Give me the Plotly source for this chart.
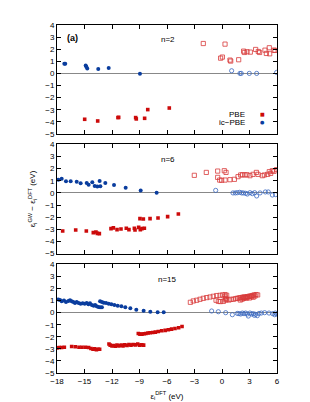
import plotly.graph_objects as go

# ---------------- data (eV) ----------------
# n=2
n2_pbe_occ_x = [-14.98, -13.56, -11.35, -11.27, -9.42, -9.35, -8.44, -8.1, -5.75]
n2_pbe_occ_y = [-3.79, -3.93, -3.65, -3.63, -3.65, -3.76, -3.71, -2.99, -2.86]
n2_pbe_unocc_x = [-2.04, 0.33, -0.15, 0.04, 0.87, 0.95, 1.82, 2.36, 2.44, 2.73, 3.09, 3.67, 3.96, 4.1, 4.69, 4.84, 5.16, 5.2, 5.67, 5.78]
n2_pbe_unocc_y = [2.47, 2.42, 1.26, 1.35, 1.1, 1.02, 1.13, 1.84, 1.73, 1.79, 1.76, 1.98, 1.81, 1.73, 1.92, 1.65, 2.12, 1.62, 1.92, 1.9]
n2_ic_occ_x = [-17.2, -17.1, -14.87, -14.8, -14.7, -13.5, -12.36, -8.95]
n2_ic_occ_y = [0.8, 0.8, 0.66, 0.55, 0.41, 0.36, 0.44, -0.03]
n2_ic_unocc_x = [1.05, 1.96, 2.1, 2.98, 3.78, 5.96]
n2_ic_unocc_y = [0.22, 0.0, 0.0, 0.0, 0.0, 0.08]

# n=6
n6_pbe_occ_x = [-17.38, -15.96, -14.8, -14.04, -13.75, -13.6, -13.38, -12.11, -11.85, -11.45, -11.02, -10.44, -10.15,
                -9.56, -9.49, -9.09, -8.91, -8.73, -8.47, -8.95, -8.58, -7.85, -6.98, -5.93, -4.76]
n6_pbe_occ_y = [-3.13, -3.05, -3.13, -3.27, -3.22, -3.33, -3.35, -2.94, -2.88, -3.02, -2.97, -2.91, -3.02,
                -2.91, -3.05, -2.84, -3.02, -2.94, -2.91, -2.12, -2.15, -2.12, -2.06, -1.95, -1.73]
n6_pbe_unocc_x = [-3.02, -1.71, -0.47, -0.47, -0.25, -0.04, 0.25, 0.44, 0.33, 0.87, 1.35, 1.75, 2.04, 2.25, 2.51, 2.73,
                  3.05, 3.38, 3.75, 3.93, 4.4, 4.62, 4.98, 5.16, 5.31, 5.49, 5.67, 5.96]
n6_pbe_unocc_y = [1.45, 1.69, 1.8, 1.28, 1.06, 1.04, 1.83, 1.69, 1.06, 1.09, 1.12, 1.34, 1.48, 1.5, 1.48, 1.5,
                  1.42, 1.53, 1.69, 1.53, 1.42, 1.48, 1.53, 1.75, 1.61, 1.83, 1.78, 1.92]
n6_ic_occ_x = [-17.85, -17.49, -17.02, -16.51, -15.85, -15.42, -14.76, -14.55, -14.15, -13.89, -13.6, -13.35, -13.27,
               -12.73, -11.78, -10.51, -8.87, -7.13]
n6_ic_occ_y = [1.09, 1.17, 0.96, 0.96, 0.93, 0.79, 0.82, 0.68, 0.87, 0.57, 0.52, 0.98, 0.54, 0.82, 0.65, 0.43, 0.21, 0.02]
n6_ic_unocc_x = [-0.69, 1.2, 1.46, 1.67, 1.93, 2.15, 2.33, 2.58, 2.76, 3.05, 3.31, 3.56, 3.78, 4.15, 4.73, 5.05, 5.49, 5.85]
n6_ic_unocc_y = [0.21, 0.0, 0.0, 0.02, 0.05, 0.0, 0.0, -0.03, -0.09, 0.02, -0.06, 0.02, -0.25, 0.0, 0.08, 0.08, -0.17, -0.14]

# n=15
n15_pbe_occ_x = [-18.0, -17.75, -17.5, -17.2, -16.4, -16.0, -15.6, -15.27, -14.9, -14.55, -14.3, -14.07, -13.9, -13.7,
                 -13.5, -13.35,
                 -12.33, -12.2, -12.0, -11.82, -11.64, -11.45, -11.24, -11.0, -10.8, -10.6, -10.36, -10.15, -9.93,
                 -9.7, -9.45, -9.2, -9.0, -8.75, -8.55,
                 -9.13, -8.95, -8.73, -8.5, -8.3, -8.07, -7.85, -7.56, -7.27, -6.95, -6.58, -6.2, -5.85, -5.5,
                 -5.13, -4.73, -4.36]
n15_pbe_occ_y = [-2.92, -2.89, -2.89, -2.86, -2.8, -2.83, -2.86, -2.86, -2.86, -2.89, -2.97, -3.03, -3.0, -3.06,
                 -3.03, -3.03,
                 -2.6, -2.69, -2.75, -2.72, -2.78, -2.69, -2.75, -2.69, -2.75, -2.67, -2.72, -2.64, -2.69,
                 -2.64, -2.67, -2.6, -2.69, -2.67, -2.69,
                 -1.72, -1.78, -1.78, -1.75, -1.72, -1.69, -1.67, -1.64, -1.61, -1.56, -1.5, -1.47, -1.42, -1.36,
                 -1.31, -1.25, -1.14]
n15_pbe_unocc_x = [-3.45, -3.13, -2.76, -2.4, -2.04, -1.67, -1.31, -0.95, -0.58, -0.22, 0.07, 0.33, 0.51,
                   -0.65, -0.4, -0.18, 0.15, 0.36, 0.5, 0.76, 0.98, 1.24, 1.49, 1.67, 1.85, 2.04, 2.25, 2.4, 2.58,
                   2.76, 2.95, 3.13, 3.31, 3.49, 3.71, 3.89,
                   0.33, 0.4, 2.0, 2.2, 2.36, 2.5, 2.65, 2.8, 3.0, 3.2, 3.4, 3.6]
n15_pbe_unocc_y = [0.86, 0.97, 1.03, 1.11, 1.19, 1.25, 1.3, 1.36, 1.42, 1.44, 1.47, 1.5, 1.44,
                   1.03, 0.94, 0.92, 0.94, 1.05, 1.08, 1.05, 1.11, 1.11, 1.17, 1.19, 1.22, 1.25, 1.28, 1.3, 1.3,
                   1.33, 1.36, 1.39, 1.42, 1.47, 1.5, 1.47,
                   1.36, 1.2, 1.05, 1.12, 1.19, 1.25, 1.2, 1.3, 1.22, 1.33, 1.28, 1.38]
n15_ic_occ_x = [-17.85, -17.67, -17.49, -17.24, -17.02, -16.76, -16.58, -16.4, -16.22, -16.04, -15.85, -15.64,
                -15.42, -15.2, -14.98, -14.76, -14.58, -14.4, -14.2, -14.0, -13.84, -13.67, -13.49, -13.3, -13.1,
                -13.3, -13.1, -12.9, -12.65, -12.36, -12.07, -11.74, -11.38, -10.98, -10.55, -10.0, -9.35, -8.55,
                -7.82, -7.02, -6.36]
n15_ic_occ_y = [1.1, 1.05, 0.94, 1.0, 0.89, 0.97, 1.03, 0.94, 0.89, 0.81, 0.89, 0.81,
                0.75, 0.78, 0.75, 0.81, 0.69, 0.78, 0.64, 0.58, 0.64, 0.53, 0.47, 0.44, 0.44,
                0.94, 0.89, 0.83, 0.81, 0.75, 0.69, 0.64, 0.58, 0.53, 0.44, 0.36, 0.25, 0.17,
                0.08, 0.03, 0.03]
n15_ic_unocc_x = [-1.13, -0.4, 0.4, 1.13, 1.67, 1.85, 2.04, 2.22, 2.4, 2.58, 2.76, 2.87, 3.05, 3.24, 3.42, 3.53,
                  3.67, 3.85, 4.04, 4.29, 4.65, 5.13, 5.53, 5.75, 6.0, 5.82]
n15_ic_unocc_y = [0.14, 0.08, 0.0, -0.17, -0.06, -0.08, -0.11, -0.03, -0.08, -0.03, -0.11, -0.28, -0.03, -0.11,
                  -0.08, -0.22, -0.14, -0.25, -0.06, -0.03, 0.0, -0.03, -0.08, -0.17, -0.11, -0.03]

panel_labels = ["n=2", "n=6", "n=15"]
legend_labels = ["PBE", "ic−PBE"]
x_ticks = [-18, -15, -12, -9, -6, -3, 0, 3, 6]
y_ticks = [-5, -4, -3, -2, -1, 0, 1, 2, 3, 4]

RED = "#cc0a0a"
BLUE = "#0a3d9e"
RED_OPEN = "#d83a3a"
BLUE_OPEN = "#3a68c0"

panels = [
    (n2_pbe_occ_x, n2_pbe_occ_y, n2_pbe_unocc_x, n2_pbe_unocc_y, n2_ic_occ_x, n2_ic_occ_y, n2_ic_unocc_x, n2_ic_unocc_y),
    (n6_pbe_occ_x, n6_pbe_occ_y, n6_pbe_unocc_x, n6_pbe_unocc_y, n6_ic_occ_x, n6_ic_occ_y, n6_ic_unocc_x, n6_ic_unocc_y),
    (n15_pbe_occ_x, n15_pbe_occ_y, n15_pbe_unocc_x, n15_pbe_unocc_y, n15_ic_occ_x, n15_ic_occ_y, n15_ic_unocc_x, n15_ic_unocc_y),
]

domains = [[0.687, 1.0], [0.343, 0.657], [0.0, 0.312]]
FONT = "Liberation Sans, Arial, sans-serif"

fig = go.Figure()
for i, (pox, poy, pux, puy, iox, ioy, iux, iuy) in enumerate(panels):
    xa = "x" if i == 0 else f"x{i+1}"
    ya = "y" if i == 0 else f"y{i+1}"
    fig.add_trace(go.Scatter(x=pux, y=puy, mode="markers", xaxis=xa, yaxis=ya, showlegend=False,
                             marker=dict(symbol="square-open", size=4.2, color=RED_OPEN, line=dict(width=0.8))))
    fig.add_trace(go.Scatter(x=iux, y=iuy, mode="markers", xaxis=xa, yaxis=ya, showlegend=False,
                             marker=dict(symbol="circle-open", size=4.2, color=BLUE_OPEN, line=dict(width=0.8))))
    fig.add_trace(go.Scatter(x=pox, y=poy, mode="markers", xaxis=xa, yaxis=ya, showlegend=False,
                             marker=dict(symbol="square", size=3.6, color=RED, line=dict(width=0))))
    fig.add_trace(go.Scatter(x=iox, y=ioy, mode="markers", xaxis=xa, yaxis=ya, showlegend=False,
                             marker=dict(symbol="circle", size=4, color=BLUE, line=dict(width=0))))

axis_common = dict(showline=True, linecolor="black", linewidth=1, mirror="allticks", ticks="inside",
                   ticklen=4, tickcolor="black", tickwidth=1, showgrid=False,
                   tickfont=dict(family=FONT, size=8, color="black"))

layout = dict(width=310, height=402, margin=dict(l=49, r=41, t=17, b=37),
              paper_bgcolor="white", plot_bgcolor="white", showlegend=False,
              font=dict(family=FONT, size=8, color="black"))
for i in range(3):
    xk = "xaxis" if i == 0 else f"xaxis{i+1}"
    yk = "yaxis" if i == 0 else f"yaxis{i+1}"
    ya = "y" if i == 0 else f"y{i+1}"
    xa = "x" if i == 0 else f"x{i+1}"
    layout[xk] = dict(axis_common, range=[-18, 6], tickvals=x_ticks, anchor=ya,
                      showticklabels=(i == 2), zeroline=False)
    layout[yk] = dict(axis_common, range=[-5, 4], tickvals=y_ticks, domain=domains[i], anchor=xa,
                      zeroline=True, zerolinecolor="#888888", zerolinewidth=1)
    if i > 0:
        layout[xk]["matches"] = "x"

layout["yaxis2"]["title"] = dict(text="ε<sub>i</sub><sup>GW</sup> − ε<sub>i</sub><sup>DFT</sup> (eV)",
                                 font=dict(family=FONT, size=8), standoff=8)
layout["xaxis3"]["title"] = dict(text="ε<sub>i</sub><sup>DFT</sup> (eV)", font=dict(family=FONT, size=8), standoff=8)

fig.update_layout(**layout)

annots = []
for i, lab in enumerate(panel_labels):
    xr = "x domain" if i == 0 else f"x{i+1} domain"
    yr = "y domain" if i == 0 else f"y{i+1} domain"
    annots.append(dict(text=lab, x=0.503, y=0.865, xref=xr, yref=yr, showarrow=False,
                       font=dict(family=FONT, size=8), xanchor="center", yanchor="middle"))
annots.append(dict(text="<b>(a)</b>", x=0.07, y=0.878, xref="x domain", yref="y domain", showarrow=False,
                   font=dict(family=FONT, size=9), xanchor="center", yanchor="middle"))
leg_y = [0.185, 0.112]
leg_sym = ["■", "●"]
leg_col = [RED, BLUE]
for lab, yy, sym, col in zip(legend_labels, leg_y, leg_sym, leg_col):
    annots.append(dict(text=lab, x=0.86, y=yy, xref="x domain", yref="y domain", showarrow=False,
                       font=dict(family=FONT, size=8), xanchor="right", yanchor="middle",
                       height=8, borderpad=0))
    annots.append(dict(text=sym, x=0.935, y=yy, xref="x domain", yref="y domain", showarrow=False,
                       font=dict(family="DejaVu Sans", size=5, color=col), xanchor="center", yanchor="middle",
                       height=7, borderpad=0))
fig.update_layout(annotations=annots)

fig.write_html("out.html")
